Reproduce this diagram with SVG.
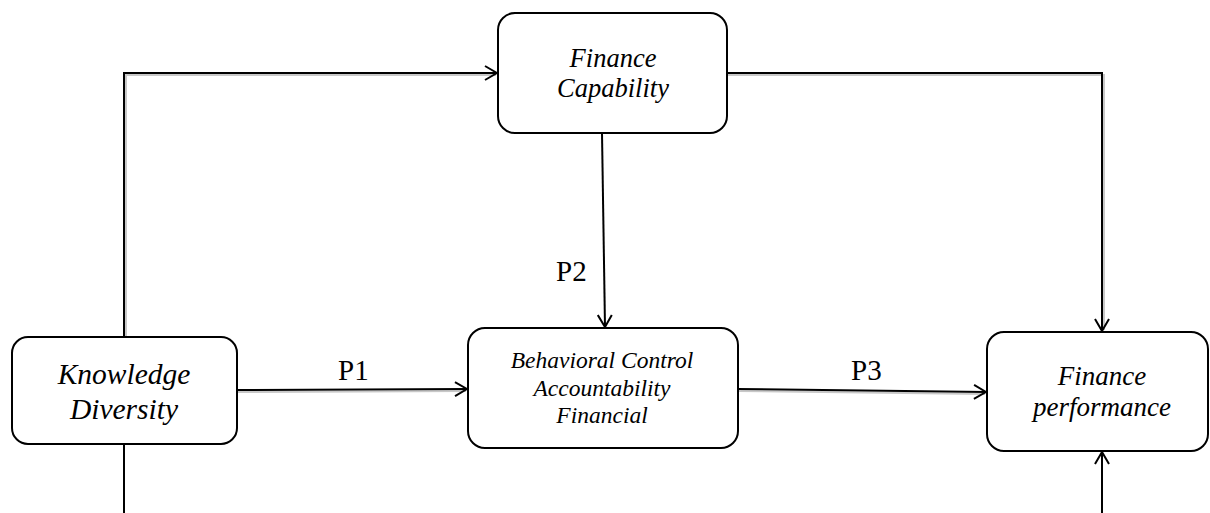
<svg xmlns="http://www.w3.org/2000/svg" width="1210" height="513" viewBox="0 0 1210 513">
<style>
.box{fill:#fff;stroke:#000;stroke-width:2}
.t{font-family:"Liberation Serif","DejaVu Serif",serif;font-style:italic;text-anchor:middle;fill:#000}
.lbl{font-family:"Liberation Serif","Times New Roman",serif;font-size:29px;fill:#000}
.ln{fill:none;stroke:#000;stroke-width:2}
.sh{fill:none;stroke:#c8c8c8;stroke-width:2}
</style>
<defs>
<marker id="arr" viewBox="0 0 14 16" refX="13" refY="8" markerWidth="14" markerHeight="16" markerUnits="userSpaceOnUse" orient="auto">
<path d="M1,1 L13,8 L1,15" fill="none" stroke="#000" stroke-width="2"/>
</marker>
</defs>
<g id="connectors">
<path class="sh" d="M126,338 V75 H496"/>
<path class="sh" d="M727,75 H1104 V330"/>
<path class="sh" d="M237,392 L466,391"/>
<path class="sh" d="M738,391 L985,394"/>
<path class="ln" d="M124,338 V73 H497" marker-end="url(#arr)"/>
<path class="ln" d="M727,73 H1102 V331" marker-end="url(#arr)"/>
<path class="ln" d="M602,133 L605,327" marker-end="url(#arr)"/>
<path class="ln" d="M237,390 L467,389" marker-end="url(#arr)"/>
<path class="ln" d="M738,389 L986,392" marker-end="url(#arr)"/>
<path class="ln" d="M124,445 V513"/>
<path class="ln" d="M1102,513 V452" marker-end="url(#arr)"/>
<text class="lbl" x="338" y="380">P1</text>
<text class="lbl" x="556" y="281">P2</text>
<text class="lbl" x="851" y="380">P3</text>
</g>
<g id="knowledge">
<rect class="box" x="12" y="337" width="225" height="107" rx="16"/>
<text class="t" x="124" y="384" font-size="29.5">Knowledge</text>
<text class="t" x="124" y="419" font-size="29.5">Diversity</text>
</g>
<g id="capability">
<rect class="box" x="498" y="13" width="229" height="120" rx="17"/>
<text class="t" x="613" y="67" font-size="26.5">Finance</text>
<text class="t" x="613" y="97" font-size="26.5">Capability</text>
</g>
<g id="behavioral">
<rect class="box" x="468" y="328" width="270" height="120" rx="17"/>
<text class="t" x="602" y="368" font-size="23.5">Behavioral Control</text>
<text class="t" x="602" y="396" font-size="23.5">Accountability</text>
<text class="t" x="602" y="423" font-size="23.5">Financial</text>
</g>
<g id="performance">
<rect class="box" x="987" y="332" width="221" height="119" rx="17"/>
<text class="t" x="1102" y="385" font-size="27">Finance</text>
<text class="t" x="1102" y="416" font-size="27">performance</text>
</g>
</svg>
